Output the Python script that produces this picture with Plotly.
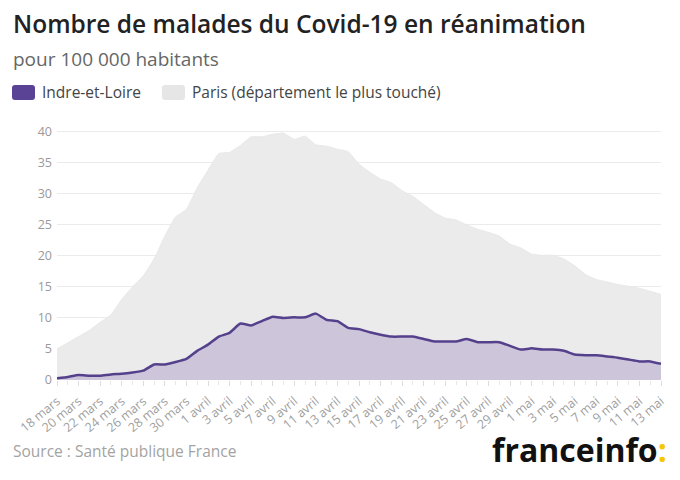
import plotly.graph_objects as go

dates = (["%d mars" % d for d in range(18, 32)] +
         ["%d avril" % d for d in range(1, 31)] +
         ["%d mai" % d for d in range(1, 14)])

indre = [0.3, 0.5, 0.8, 0.7, 0.7, 0.9, 1.0, 1.2, 1.5, 2.5,
         2.5, 2.9, 3.4, 4.7, 5.7, 7.0, 7.6, 9.1, 8.8, 9.5,
         10.2, 10.0, 10.1, 10.1, 10.7, 9.7, 9.5, 8.4, 8.2, 7.7,
         7.3, 7.0, 7.0, 7.0, 6.6, 6.2, 6.2, 6.2, 6.6, 6.1,
         6.1, 6.1, 5.5, 4.9, 5.1, 4.9, 4.9, 4.7, 4.1, 4.0,
         4.0, 3.8, 3.6, 3.3, 3.0, 3.0, 2.6]

paris = [5.0, 6.0, 7.0, 8.0, 9.3, 10.5, 13.0, 15.0, 16.8, 19.5,
         23.2, 26.3, 27.5, 31.0, 33.8, 36.5, 36.7, 37.8, 39.2, 39.2,
         39.6, 39.8, 38.8, 39.3, 37.9, 37.7, 37.2, 36.8, 34.8, 33.5,
         32.4, 31.8, 30.5, 29.6, 28.3, 27.0, 26.1, 25.8, 25.0, 24.3,
         23.8, 23.2, 21.9, 21.3, 20.3, 20.1, 20.1, 19.5, 18.4, 17.0,
         16.2, 15.8, 15.4, 15.1, 14.8, 14.3, 13.8]

y_ticks = [0, 5, 10, 15, 20, 25, 30, 35, 40]

series_names = ["Indre-et-Loire", "Paris (département le plus touché)"]
title = "Nombre de malades du Covid-19 en réanimation"
subtitle = "pour 100 000 habitants"
source = "Source : Santé publique France"

x = list(range(len(dates)))

W, H = 680, 480
L, R, T, B = 57, 19, 130, 100
PW, PH = W - L - R, H - T - B


def px(xp):
    return (xp - L) / PW


def py(yp):
    return (H - B - yp) / PH


FONT = "Open Sans"
PURPLE = "#55408c"

fig = go.Figure()
fig.add_trace(go.Scatter(x=x, y=paris, mode="lines", fill="tozeroy",
                         line=dict(color="#e9e9e9", width=1, shape="spline", smoothing=0.4),
                         fillcolor="#ebebeb", name=series_names[1], hoverinfo="skip"))
fig.add_trace(go.Scatter(x=x, y=indre, mode="lines", fill="tozeroy",
                         line=dict(color=PURPLE, width=2.5, shape="spline", smoothing=0.4),
                         fillcolor="#cdc6da", name=series_names[0], hoverinfo="skip"))

fig.update_layout(
    width=W, height=H,
    margin=dict(l=L, r=R, t=T, b=B),
    paper_bgcolor="white", plot_bgcolor="white",
    showlegend=False,
    font=dict(family=FONT, color="#999999"),
    xaxis=dict(range=[0, len(dates) - 1], tickmode="array",
               tickvals=x[::2], ticktext=dates[::2], tickangle=-40,
               tickfont=dict(size=12.5, color="#a0a0a0", family=FONT),
               showgrid=False, zeroline=False, showline=False,
               ticks="outside", ticklen=5, tickcolor="#dddddd",
               ticklabelstandoff=3,
               minor=dict(dtick=1, ticks="outside", ticklen=4, tickcolor="#e6e6e6")),
    yaxis=dict(range=[0, 40.3], tickmode="array", tickvals=y_ticks,
               tickfont=dict(size=12.5, color="#9a9a9a", family=FONT),
               showgrid=True, gridcolor="#ebebeb", gridwidth=1,
               zeroline=False, showline=False, ticks="", ticklabelstandoff=4),
)

ann = [
    dict(text=title, x=px(11), y=py(23), xanchor="left", yanchor="middle",
         font=dict(size=24.5, color="#222222", family=FONT, weight=600)),
    dict(text=subtitle, x=px(11), y=py(59), xanchor="left", yanchor="middle",
         font=dict(size=19, color="#666666", family=FONT)),
    dict(text=series_names[0], x=px(40), y=py(92), xanchor="left", yanchor="middle",
         font=dict(size=15.5, color="#444444", family=FONT)),
    dict(text=series_names[1], x=px(190), y=py(92), xanchor="left", yanchor="middle",
         font=dict(size=15.5, color="#444444", family=FONT)),
    dict(text=source, x=px(11), y=py(451), xanchor="left", yanchor="middle",
         font=dict(size=15.5, color="#a3a3a3", family=FONT)),
    dict(text="<b>franceinfo</b><b><span style='color:#f7c600'>:</span></b>",
         x=px(669), y=py(449), xanchor="right", yanchor="middle",
         font=dict(size=32, color="#111111", family=FONT)),
]
for a in ann:
    a.update(xref="paper", yref="paper", showarrow=False)
fig.update_layout(annotations=ann)


def rrect(x0, y0, x1, y1, r):
    X0, X1 = px(x0), px(x1)
    Y0, Y1 = py(y0), py(y1)
    rx, ry = r / PW, r / PH
    return (f"M {X0+rx} {Y0} L {X1-rx} {Y0} Q {X1} {Y0} {X1} {Y0-ry} "
            f"L {X1} {Y1+ry} Q {X1} {Y1} {X1-rx} {Y1} L {X0+rx} {Y1} "
            f"Q {X0} {Y1} {X0} {Y1+ry} L {X0} {Y0-ry} Q {X0} {Y0} {X0+rx} {Y0} Z")


fig.update_layout(shapes=[
    dict(type="path", path=rrect(12, 85, 35, 100, 3), xref="paper", yref="paper",
         fillcolor="#5a4394", line=dict(width=0)),
    dict(type="path", path=rrect(162, 85, 185, 100, 3), xref="paper", yref="paper",
         fillcolor="#e6e6e6", line=dict(width=0)),
])

fig.write_html("out.html", config={"displayModeBar": False},
               post_script="document.body.style.margin='0';document.body.style.overflow='hidden';")
